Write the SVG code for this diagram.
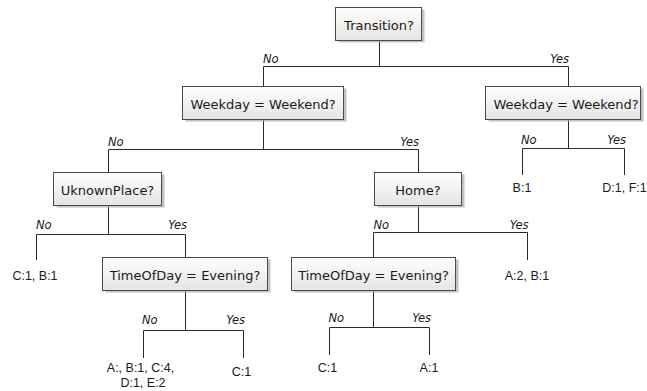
<svg xmlns="http://www.w3.org/2000/svg" width="647" height="391" viewBox="0 0 647 391">
<defs>
<linearGradient id="g" x1="0" y1="0" x2="0" y2="1">
<stop offset="0" stop-color="#ffffff"/>
<stop offset="1" stop-color="#e4e4e4"/>
</linearGradient>
</defs>
<style>
.box{fill:url(#g);stroke:#4a4a4a;stroke-width:1}
.sh{fill:#a8a8a8;opacity:0.7}
.nt{font-family:"DejaVu Sans",Verdana,sans-serif;font-size:13px;fill:#1a1a1a;text-anchor:middle}
.lf{font-family:"Liberation Sans",Arial,sans-serif;font-size:12.5px;fill:#1a1a1a;text-anchor:middle}
.el{font-family:"DejaVu Sans",Verdana,sans-serif;font-size:11.5px;font-style:italic;fill:#1a1a1a}
.s{text-anchor:start}
.e{text-anchor:end}
#connectors line{stroke:#2a2a2a;stroke-width:1;fill:none}
</style>
<rect width="647" height="391" fill="#ffffff"/>
<g id="connectors">
<line x1="379.5" y1="40" x2="379.5" y2="66.5"/>
<line x1="263.5" y1="66.5" x2="568.5" y2="66.5"/>
<line x1="263.5" y1="66.5" x2="263.5" y2="86"/>
<line x1="568.5" y1="66.5" x2="568.5" y2="86"/>
<line x1="263.5" y1="119" x2="263.5" y2="149.5"/>
<line x1="108.5" y1="149.5" x2="418.5" y2="149.5"/>
<line x1="108.5" y1="149.5" x2="108.5" y2="172"/>
<line x1="418.5" y1="149.5" x2="418.5" y2="172"/>
<line x1="568.5" y1="119" x2="568.5" y2="148.5"/>
<line x1="522.5" y1="148.5" x2="624.5" y2="148.5"/>
<line x1="522.5" y1="148.5" x2="522.5" y2="175"/>
<line x1="624.5" y1="148.5" x2="624.5" y2="175"/>
<line x1="108.5" y1="205" x2="108.5" y2="234.5"/>
<line x1="36.5" y1="234.5" x2="185.5" y2="234.5"/>
<line x1="36.5" y1="234.5" x2="36.5" y2="260"/>
<line x1="185.5" y1="234.5" x2="185.5" y2="257"/>
<line x1="418.5" y1="205" x2="418.5" y2="232.5"/>
<line x1="373.5" y1="232.5" x2="527.5" y2="232.5"/>
<line x1="373.5" y1="232.5" x2="373.5" y2="257"/>
<line x1="527.5" y1="232.5" x2="527.5" y2="260"/>
<line x1="185.5" y1="290" x2="185.5" y2="330.5"/>
<line x1="143.5" y1="330.5" x2="243.5" y2="330.5"/>
<line x1="143.5" y1="330.5" x2="143.5" y2="358"/>
<line x1="243.5" y1="330.5" x2="243.5" y2="358"/>
<line x1="373.5" y1="290" x2="373.5" y2="327.5"/>
<line x1="329.5" y1="327.5" x2="429.5" y2="327.5"/>
<line x1="329.5" y1="327.5" x2="329.5" y2="355"/>
<line x1="429.5" y1="327.5" x2="429.5" y2="355"/>
<text class="el s" x="263" y="63">No</text>
<text class="el e" x="569" y="63">Yes</text>
<text class="el s" x="108" y="145.5">No</text>
<text class="el e" x="419" y="145.5">Yes</text>
<text class="el s" x="521" y="144">No</text>
<text class="el e" x="626" y="144">Yes</text>
<text class="el s" x="36" y="229">No</text>
<text class="el e" x="187" y="229">Yes</text>
<text class="el s" x="373.5" y="229">No</text>
<text class="el e" x="528.5" y="229">Yes</text>
<text class="el s" x="142" y="324">No</text>
<text class="el e" x="245" y="324">Yes</text>
<text class="el s" x="328.5" y="321.5">No</text>
<text class="el e" x="431" y="321.5">Yes</text>
</g>
<g id="n-transition">
<rect class="sh" x="338.5" y="9.5" width="86" height="33"/>
<rect class="box" x="335.5" y="7.5" width="86" height="33"/>
<text class="nt" x="379" y="29.5">Transition?</text>
</g>
<g id="n-weekday-left">
<rect class="sh" x="185.5" y="88.5" width="161" height="33"/>
<rect class="box" x="182.5" y="86.5" width="161" height="33"/>
<text class="nt" x="263" y="108.5">Weekday = Weekend?</text>
</g>
<g id="n-weekday-right">
<rect class="sh" x="488.5" y="88.5" width="155" height="33"/>
<rect class="box" x="485.5" y="86.5" width="155" height="33"/>
<text class="nt" x="566" y="108.5">Weekday = Weekend?</text>
</g>
<g id="n-unknownplace">
<rect class="sh" x="56.5" y="174.5" width="108" height="33"/>
<rect class="box" x="53.5" y="172.5" width="108" height="33"/>
<text class="nt" x="107.5" y="194.5">UknownPlace?</text>
</g>
<g id="n-home">
<rect class="sh" x="377.5" y="174.5" width="87" height="33"/>
<rect class="box" x="374.5" y="172.5" width="87" height="33"/>
<text class="nt" x="418" y="194.5">Home?</text>
</g>
<g id="n-timeofday-left">
<rect class="sh" x="105.5" y="259.5" width="165" height="33"/>
<rect class="box" x="102.5" y="257.5" width="165" height="33"/>
<text class="nt" x="185" y="279.5">TimeOfDay = Evening?</text>
</g>
<g id="n-timeofday-right">
<rect class="sh" x="294.5" y="259.5" width="164" height="33"/>
<rect class="box" x="291.5" y="257.5" width="164" height="33"/>
<text class="nt" x="373.5" y="279.5">TimeOfDay = Evening?</text>
</g>
<g id="leaf-b1">
<text class="lf" x="522" y="191.5">B:1</text>
</g>
<g id="leaf-d1f1">
<text class="lf" x="624.5" y="191.5">D:1, F:1</text>
</g>
<g id="leaf-c1b1">
<text class="lf" x="35" y="279.5">C:1, B:1</text>
</g>
<g id="leaf-a2b1">
<text class="lf" x="527" y="280">A:2, B:1</text>
</g>
<g id="leaf-abcde">
<text class="lf" x="140.5" y="372">A:, B:1, C:4,</text>
<text class="lf" x="143" y="386.5">D:1, E:2</text>
</g>
<g id="leaf-c1-left">
<text class="lf" x="241.5" y="375.5">C:1</text>
</g>
<g id="leaf-c1-right">
<text class="lf" x="327.5" y="371.5">C:1</text>
</g>
<g id="leaf-a1">
<text class="lf" x="429" y="371.5">A:1</text>
</g>
</svg>
